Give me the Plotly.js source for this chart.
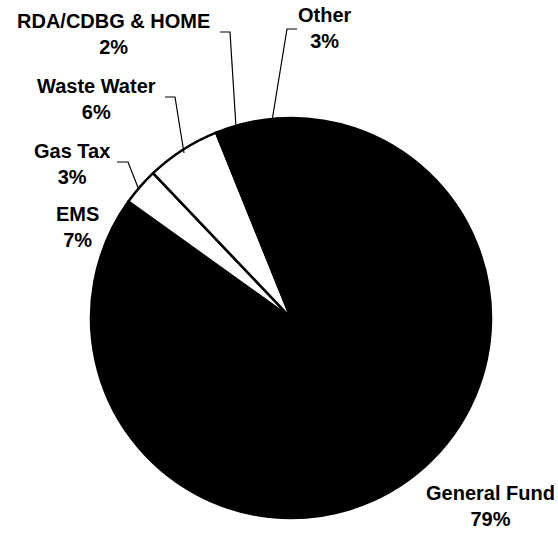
<!DOCTYPE html>
<html>
<head>
<meta charset="utf-8">
<script src="https://cdn.plot.ly/plotly-3.0.1.min.js"></script>
<style>html,body{margin:0;padding:0;background:#fff;}#chart{width:558px;height:536px;}</style>
</head>
<body>
<div id="chart"></div>
<script>
const labels = ["General Fund", "EMS", "Gas Tax", "Waste Water", "RDA/CDBG &amp; HOME", "Other"];
const values = [79, 7, 3, 6, 2, 3];
const sliceColors = ["#000000", "#000000", "#ffffff", "#ffffff", "#000000", "#000000"];
const pctLabels = ["79%", "7%", "3%", "6%", "2%", "3%"];

const W = 558, H = 536;
const X = x => x / W;
const Y = y => 1 - y / H;

// label centres (pixel positions) and leader line paths (pixels)
const labelPos = [[490, 506], [77, 227], [72, 164], [96, 99], [113, 34], [325, 28]];
const leaders = [
  null,
  null,
  [[117, 162], [128, 162], [139, 190]],
  [[165, 97], [175, 97], [184, 153]],
  [[220, 32], [230, 32], [236, 127]],
  [[297, 29], [287, 29], [272, 121]]
];

const annotations = labels.map((l, i) => ({
  xref: "paper", yref: "paper",
  x: X(labelPos[i][0]), y: Y(labelPos[i][1]),
  xanchor: "center", yanchor: "middle",
  text: l + "<br>" + pctLabels[i],
  showarrow: false,
  align: "center",
  font: {family: "Liberation Sans, Arial, sans-serif", size: 20, color: "#000", weight: "bold"}
}));

const shapes = leaders.filter(p => p).map(p => ({
  type: "path", xref: "paper", yref: "paper",
  path: p.map((pt, k) => (k === 0 ? "M" : "L") + X(pt[0]) + "," + Y(pt[1])).join(" "),
  line: {color: "#000", width: 1.2}
}));

const cx = 291, cy = 318, r = 200;
const data = [{
  type: "pie",
  labels: labels,
  values: values,
  sort: false,
  direction: "clockwise",
  rotation: -4,
  textinfo: "none",
  hoverinfo: "none",
  marker: {colors: sliceColors, line: {color: "#000", width: 2.5}},
  domain: {x: [X(cx - r), X(cx + r)], y: [Y(cy + r), Y(cy - r)]},
  showlegend: false
}];

const layout = {
  width: W, height: H,
  margin: {l: 0, r: 0, t: 0, b: 0},
  paper_bgcolor: "#fff", plot_bgcolor: "#fff",
  showlegend: false,
  annotations: annotations,
  shapes: shapes
};

Plotly.newPlot("chart", data, layout, {staticPlot: true, displayModeBar: false});
</script>
</body>
</html>
